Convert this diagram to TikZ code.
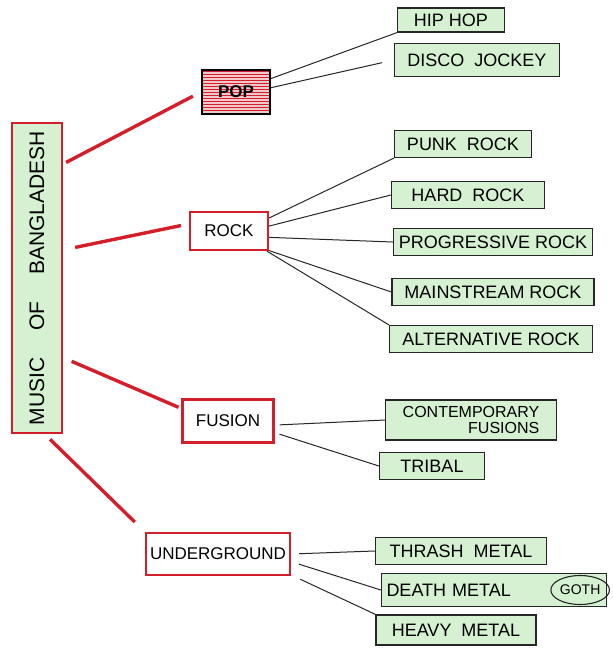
\documentclass[tikz,border=0pt]{standalone}
\usepackage{graphicx}
\usepackage{fontspec}
\setmainfont{Liberation Sans}
\usetikzlibrary{shapes.geometric, positioning, calc, patterns}
\definecolor{penred}{RGB}{212,30,42}
\definecolor{leaf}{RGB}{214,241,210}
\tikzset{catbox/.style={rectangle, draw=penred, line width=2.4pt, fill=white, inner sep=2pt, font=\fontsize{17}{18}\selectfont}}
\tikzset{subbox/.style={rectangle, draw=black!85, line width=1.3pt, fill=leaf, minimum height=27pt, inner sep=3pt}}

\begin{document}
\begin{tikzpicture}[x=1pt, y=-1pt, font=\fontsize{18}{19}\selectfont,
    branch/.style={draw=penred, line width=3.4pt},
    twig/.style={draw=black!85, line width=1pt}]
    \useasboundingbox (0,0) rectangle (613,651);

    % root
    \node[draw=penred, line width=2.8pt, fill=leaf, minimum width=50pt, minimum height=310pt, inner sep=2pt, font=\fontsize{21}{22}\selectfont] (music) at (37,278)
        {\rotatebox{90}{MUSIC \quad OF \quad BANGLADESH}};

    % genres
    \node[rectangle, draw=black, line width=2.2pt, preaction={fill=penred!25}, pattern=horizontal lines, pattern color=penred,
        minimum width=68pt, minimum height=44pt, font=\fontsize{17}{18}\selectfont] (pop) at (236,92) {\textbf{POP}};
    \node[catbox, minimum width=78pt, minimum height=38pt] (rock) at (229,231) {ROCK};
    \node[catbox, minimum width=91pt, minimum height=43pt] (fusion) at (228,421) {FUSION};
    \node[catbox, minimum width=144pt, minimum height=42pt] (under) at (218,554) {UNDERGROUND};

    % sub genres
    \node[subbox, minimum width=107pt, minimum height=24pt] (hiphop) at (451,20) {HIP HOP};
    \node[subbox, minimum width=165pt, minimum height=33pt] (disco) at (477,60) {DISCO \ JOCKEY};

    \node[subbox, minimum width=137pt] (punk) at (463,144) {PUNK \ ROCK};
    \node[subbox, minimum width=153pt] (hard) at (468,195) {HARD \ ROCK};
    \node[subbox, minimum width=199pt] (prog) at (493,242) {PROGRESSIVE ROCK};
    \node[subbox, minimum width=202pt] (main) at (493,292) {MAINSTREAM ROCK};
    \node[subbox, minimum width=203pt] (alt) at (491,339) {ALTERNATIVE ROCK};

    \node[subbox, minimum width=171pt, minimum height=40pt, inner sep=2pt, align=right, font=\fontsize{16}{16}\selectfont]
        (contemp) at (471,420) {CONTEMPORARY\\FUSIONS};
    \node[subbox, minimum width=105pt] (tribal) at (432,466) {TRIBAL};

    \node[subbox, minimum width=171pt] (thrash) at (461,551) {THRASH \ METAL};
    \node[subbox, text width=215pt, inner sep=5pt, align=left, minimum height=33pt] (death) at (494,590) {DEATH METAL};
    \node[ellipse, draw=black!85, line width=1.1pt, inner sep=0.5pt, minimum height=29pt, font=\fontsize{14}{15}\selectfont]
        (goth) at ([xshift=-27pt]death.east) {GOTH};
    \node[subbox, minimum width=160pt, minimum height=30pt] (heavy) at (456,630) {HEAVY \ METAL};

    % red branches out of the root
    \draw[branch, shorten <=3pt, shorten >=9pt] ($(music.north east)!0.135!(music.south east)$) -- (pop.west);
    \draw[branch, shorten <=12pt, shorten >=8pt] ($(music.north east)!0.41!(music.south east)$) -- (rock.170);
    \draw[branch, shorten <=9pt, shorten >=3pt] ($(music.north east)!0.755!(music.south east)$) -- (fusion.165);
    \draw[branch, shorten <=7pt, shorten >=14pt] ($(music.south)+(8,0)$) -- (under.north west);

    % thin lines to the sub genres
    \draw[twig] (pop.21) -- (hiphop.south west);
    \draw[twig, shorten >=12pt] (pop.7) -- (disco.west);

    \draw[twig] (rock.18) -- (punk.south west);
    \draw[twig] (rock.7) -- (hard.west);
    \draw[twig] (rock.-9) -- (prog.west);
    \draw[twig] (rock.-26) -- (main.west);
    \draw[twig] (rock.-28) -- (alt.north west);

    \draw[twig, shorten <=5pt] (fusion.-5) -- (contemp.west);
    \draw[twig, shorten <=5pt] (fusion.-14) -- (tribal.west);

    \draw[twig, shorten <=8pt] (under.0) -- (thrash.west);
    \draw[twig, shorten <=8pt] (under.-6) -- (death.west);
    \draw[twig, shorten <=10pt] (under.-16) -- (heavy.north west);
\end{tikzpicture}
\end{document}
